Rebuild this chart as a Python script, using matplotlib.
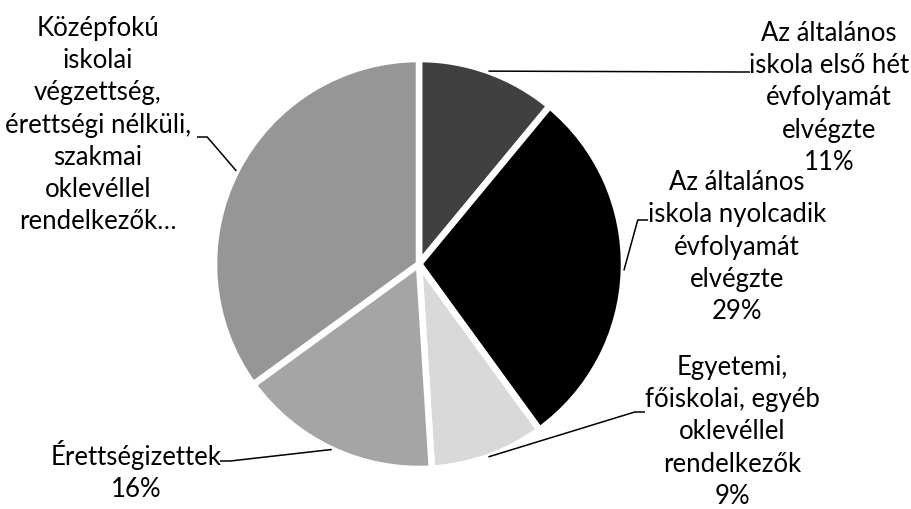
import matplotlib.pyplot as plt
import numpy as np

plt.rcParams['font.family'] = ['Lato', 'DejaVu Sans']

categories = [
    'Az általános\niskola első hét\névfolyamát\nelvégzte',
    'Az általános\niskola nyolcadik\névfolyamát\nelvégzte',
    'Egyetemi,\nfőiskolai, egyéb\noklevéllel\nrendelkezők',
    'Érettségizettek',
    'Középfokú\niskolai\nvégzettség,\nérettségi nélküli,\nszakmai\noklevéllel\nrendelkezők…',
]
values = [11, 29, 9, 16, 35]
colors = ['#404040', '#000000', '#d9d9d9', '#a5a5a5', '#969696']

# label placement (pixel centres of text blocks) and leader end points
label_px = [(829, 98), (737, 247), (732, 432), (136, 471), (98, 125)]
end_px = [(750, 72), (648, 220), (645, 412), (220, 461), (197, 137)]
has_pct = [True, True, True, True, False]

W, H = 912, 509
cx, cy, r = 419, 264, 205

fig = plt.figure(figsize=(W / 100, H / 100), dpi=100)
ax = fig.add_axes([(cx - r) / W, (H - cy - r) / H, 2 * r / W, 2 * r / H])

wedges, _ = ax.pie(values, colors=colors, startangle=90, counterclock=False,
                   radius=1, wedgeprops=dict(edgecolor='white', linewidth=4.7))
ax.set_xlim(-1, 1)
ax.set_ylim(-1, 1)
ax.axis('off')


def to_data(p):
    return ((p[0] - cx) / r, (cy - p[1]) / r)


for w, cat, v, lp, ep, pct in zip(wedges, categories, values, label_px, end_px, has_pct):
    mid = np.deg2rad((w.theta1 + w.theta2) / 2)
    edge = (np.cos(mid), np.sin(mid))
    ex, ey = to_data(ep)
    # short horizontal stub next to the label
    stub = 0.05 if ex > 0 else -0.05
    ax.plot([edge[0], ex - stub, ex], [edge[1], ey, ey], color='black', lw=1.1,
            clip_on=False, solid_capstyle='butt')
    txt = f'{cat}\n{v}%' if pct else cat
    tx, ty = to_data(lp)
    ax.text(tx, ty, txt, ha='center', va='center', fontsize=18.5,
            linespacing=1.36, clip_on=False)

fig.savefig('out.png', dpi=100, facecolor='white')
